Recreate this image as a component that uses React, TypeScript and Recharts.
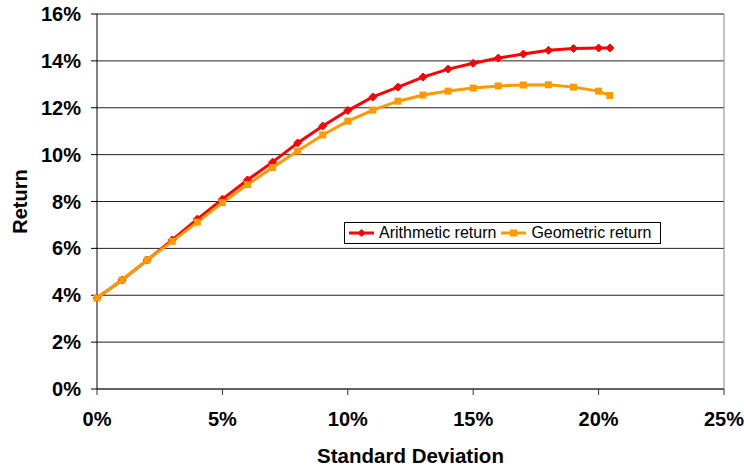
import {
  CartesianGrid,
  Label,
  Legend,
  Line,
  LineChart,
  ReferenceLine,
  XAxis,
  YAxis,
} from "recharts";

// standard deviation (%) and the two return series (%)
const sdPoints = [0, 1, 2, 3, 4, 5, 6, 7, 8, 9, 10, 11, 12, 13, 14, 15, 16, 17, 18, 19, 20, 20.45];
const arithmeticReturn = [
  3.88, 4.65, 5.5, 6.36, 7.25, 8.1, 8.92, 9.68, 10.5, 11.22, 11.88, 12.46, 12.88, 13.31,
  13.65, 13.9, 14.12, 14.29, 14.45, 14.53, 14.55, 14.55,
];
const geometricReturn = [
  3.88, 4.65, 5.5, 6.3, 7.12, 7.95, 8.72, 9.45, 10.15, 10.84, 11.43, 11.9, 12.28, 12.54,
  12.71, 12.84, 12.93, 12.97, 12.98, 12.88, 12.71, 12.52,
];
const xTicks = [0, 5, 10, 15, 20, 25];
const yTicks = [0, 2, 4, 6, 8, 10, 12, 14, 16];

const data = sdPoints.map((sd, i) => ({
  sd,
  arithmetic: arithmeticReturn[i],
  geometric: geometricReturn[i],
}));

const RED = "#ff0000";
const ORANGE = "#ff9900";
const FONT = "'Liberation Sans', Arial, sans-serif";

const tickStyle = { fontSize: 20, fontWeight: 700, fill: "#000", fontFamily: FONT };

function Diamond(props: any) {
  const { cx, cy, index } = props;
  if (cx == null || cy == null) return null;
  return (
    <path
      key={`d-${index}`}
      d={`M${cx},${cy - 4}L${cx + 4},${cy}L${cx},${cy + 4}L${cx - 4},${cy}Z`}
      fill={RED}
      stroke={RED}
    />
  );
}

function Square(props: any) {
  const { cx, cy, index } = props;
  if (cx == null || cy == null) return null;
  return <rect key={`s-${index}`} x={cx - 3.5} y={cy - 3.5} width={7} height={7} fill={ORANGE} />;
}

function LegendBox() {
  const item = (color: string, label: string, square: boolean) => (
    <span style={{ display: "inline-flex", alignItems: "center", marginRight: 4 }}>
      <svg width={27} height={10} style={{ marginRight: 4 }}>
        <line x1={1} y1={5} x2={26} y2={5} stroke={color} strokeWidth={3} />
        {square ? (
          <rect x={10} y={1.5} width={7} height={7} fill={color} />
        ) : (
          <path d="M13.5,1L17.5,5L13.5,9L9.5,5Z" fill={color} />
        )}
      </svg>
      <span>{label}</span>
    </span>
  );
  return (
    <div
      style={{
        boxSizing: "border-box",
        width: 317,
        height: 22,
        border: "1px solid #000",
        background: "#fff",
        display: "flex",
        alignItems: "center",
        paddingLeft: 3,
        fontFamily: FONT,
        fontSize: 16,
        color: "#000",
        whiteSpace: "nowrap",
      }}
    >
      {item(RED, "Arithmetic return", false)}
      {item(ORANGE, "Geometric return", true)}
    </div>
  );
}

export default function App() {
  return (
    <div style={{ position: "absolute", left: 0, top: 0, background: "#fff" }}>
      <LineChart
        width={744}
        height={467}
        data={data}
        margin={{ top: 14, right: 20, bottom: 0, left: 0 }}
      >
        <CartesianGrid vertical={false} stroke="#222" strokeOpacity={1} />
        <XAxis
          dataKey="sd"
          type="number"
          domain={[0, 25]}
          ticks={xTicks}
          tickFormatter={(v) => `${v}%`}
          height={78}
          tickSize={6}
          tickMargin={17}
          stroke="#333"
          tick={tickStyle}
          interval={0}
        >
          <Label
            value="Standard Deviation"
            position="insideBottom"
            offset={4}
            style={{ ...tickStyle, fontSize: 20.5, textAnchor: "middle" }}
          />
        </XAxis>
        <YAxis
          type="number"
          domain={[0, 16]}
          ticks={yTicks}
          tickFormatter={(v) => `${v}%`}
          width={97}
          tickSize={6}
          tickMargin={10}
          stroke="#000"
          tick={tickStyle}
          interval={0}
        >
          <Label
            content={() => (
              <text
                x={27}
                y={201.5}
                transform="rotate(-90 27 201.5)"
                textAnchor="middle"
                style={tickStyle}
              >
                Return
              </text>
            )}
          />
        </YAxis>
        <ReferenceLine y={16} stroke="#888" strokeWidth={1} ifOverflow="visible" />
        <ReferenceLine x={25} stroke="#888" strokeWidth={1} ifOverflow="visible" />
        <Legend
          layout="horizontal"
          verticalAlign="middle"
          align="center"
          wrapperStyle={{ position: "absolute", left: 344, top: 222, width: 317, height: 22 }}
          content={() => <LegendBox />}
        />
        <Line
          type="linear"
          dataKey="arithmetic"
          name="Arithmetic return"
          stroke={RED}
          strokeWidth={3}
          dot={Diamond}
          activeDot={false}
          isAnimationActive={false}
        />
        <Line
          type="linear"
          dataKey="geometric"
          name="Geometric return"
          stroke={ORANGE}
          strokeWidth={3}
          dot={Square}
          activeDot={false}
          isAnimationActive={false}
        />
      </LineChart>
    </div>
  );
}
